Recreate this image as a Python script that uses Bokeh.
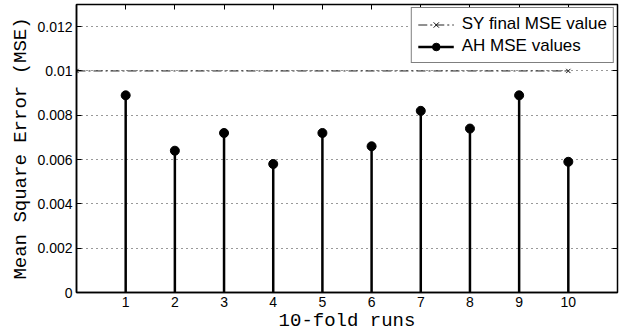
from bokeh.plotting import figure
from bokeh.models import (Range1d, FixedTicker, CustomJSTickFormatter, LinearAxis,
                          Legend, LegendItem)
from bokeh.embed import file_html
from bokeh.resources import INLINE

runs = [1, 2, 3, 4, 5, 6, 7, 8, 9, 10]
ah_mse = [0.0089, 0.0064, 0.0072, 0.0058, 0.0072, 0.0066, 0.0082, 0.0074, 0.0089, 0.0059]
sy_x = [0, 10]
sy_mse = [0.01, 0.01]
y_ticks = [0, 0.002, 0.004, 0.006, 0.008, 0.01, 0.012]
x_ticks = runs

p = figure(width=621, height=334, output_backend="svg", toolbar_location=None,
           x_range=Range1d(0, 11), y_range=Range1d(0, 0.013),
           min_border_left=76, min_border_right=4, min_border_top=4, min_border_bottom=42)
p.outline_line_color = "black"
p.outline_line_width = 1.5

fmt = CustomJSTickFormatter(code="return tick == 0 ? '0' : parseFloat(tick.toFixed(4)).toString();")
blank = CustomJSTickFormatter(code="return '';")

def style_axis(ax, ticks, labels=True):
    ax.ticker = FixedTicker(ticks=ticks)
    ax.major_tick_in = 5
    ax.major_tick_out = 0
    ax.minor_tick_in = 0
    ax.minor_tick_out = 0
    ax.axis_line_color = "black"
    ax.axis_line_width = 1.5
    ax.major_tick_line_color = "black"
    if labels:
        ax.formatter = fmt
        ax.major_label_text_font = "Liberation Sans"
        ax.major_label_text_font_size = "14px"
        ax.major_label_text_color = "black"
        ax.axis_label_text_font = "Liberation Mono"
        ax.axis_label_text_font_size = "19px"
        ax.axis_label_text_font_style = "normal"
        ax.axis_label_text_color = "black"
    else:
        ax.formatter = blank
        ax.major_label_standoff = 0
        ax.axis_line_color = None

style_axis(p.xaxis[0], x_ticks)
style_axis(p.yaxis[0], y_ticks)
p.xaxis.major_label_standoff = 4
p.yaxis.major_label_standoff = 4
p.xaxis.axis_label = "10-fold runs"
p.yaxis.axis_label = "Mean Square Error (MSE)"
p.xaxis.axis_label_standoff = 0
p.yaxis.axis_label_standoff = 2

top = LinearAxis()
style_axis(top, x_ticks, labels=False)
p.add_layout(top, "above")
right = LinearAxis()
style_axis(right, y_ticks, labels=False)
p.add_layout(right, "right")

p.xgrid.visible = False
p.ygrid.ticker = FixedTicker(ticks=y_ticks)
p.ygrid.grid_line_color = "#333333"
p.ygrid.grid_line_dash = "1 4"
p.ygrid.grid_line_width = 1

sy_line = p.line(sy_x, sy_mse, line_color="#222222", line_width=1, line_dash="9 3 2 3")
sy_mark = p.scatter(sy_x, sy_mse, marker="x", size=6, line_color="#111111", line_width=1)

stems = p.segment(x0=runs, y0=[0] * len(runs), x1=runs, y1=ah_mse,
                  line_color="black", line_width=2.5)
heads = p.scatter(runs, ah_mse, marker="circle", size=9, fill_color="black", line_color="black")

legend = Legend(items=[
    LegendItem(label="SY final MSE value", renderers=[sy_line, sy_mark]),
    LegendItem(label="AH MSE values", renderers=[stems, heads]),
], location="top_right")
legend.label_text_font = "Liberation Sans"
legend.label_text_font_size = "17px"
legend.label_text_color = "black"
legend.border_line_color = "black"
legend.border_line_width = 1
legend.background_fill_alpha = 1
legend.glyph_width = 36
legend.glyph_height = 19
legend.label_height = 19
legend.label_standoff = 8
legend.spacing = 2
legend.padding = 6
legend.margin = 3
p.add_layout(legend, "center")

open("out.html", "w").write(file_html(p, INLINE))
